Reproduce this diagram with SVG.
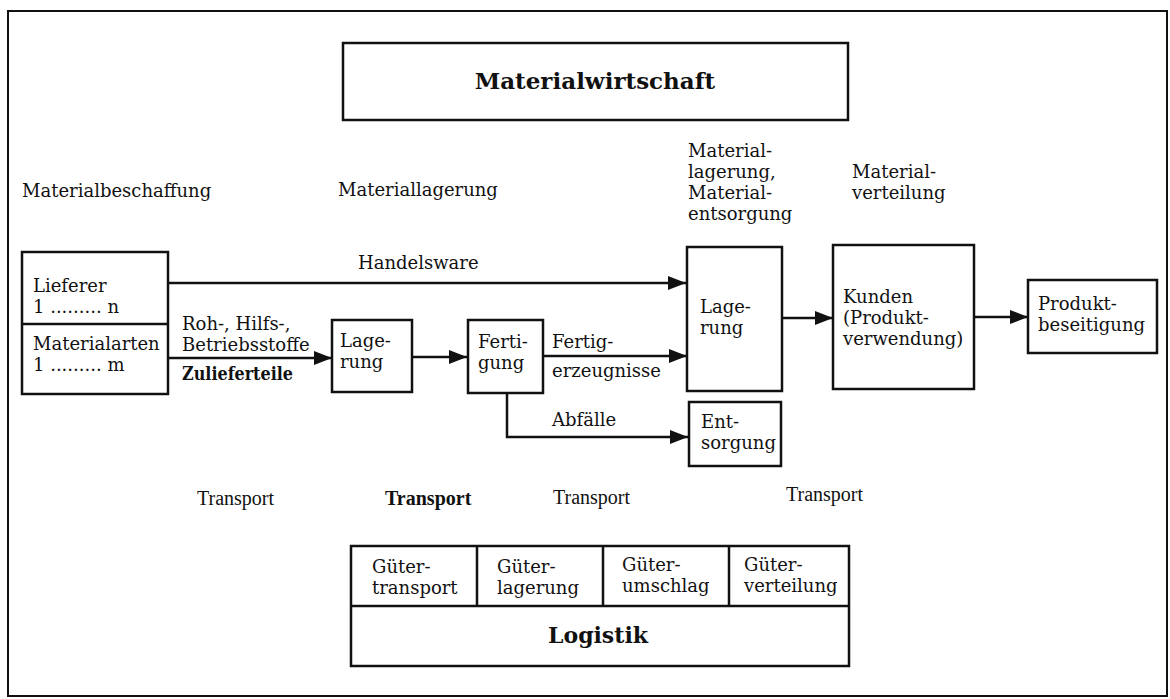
<svg xmlns="http://www.w3.org/2000/svg" width="1170" height="699" viewBox="0 0 1170 699">
<style>
.t{font-family:"DejaVu Serif","Liberation Serif",serif;font-size:18px;fill:#111}
.tr{font-family:"Liberation Serif","Times New Roman",serif;font-size:20px;fill:#111}
.b{font-weight:bold}
.box{fill:#fff;stroke:#111;stroke-width:2.5}
.ln{fill:none;stroke:#111;stroke-width:2.5}
</style>
<defs>
<marker id="ah" markerWidth="20" markerHeight="14" refX="18" refY="7" orient="auto" markerUnits="userSpaceOnUse">
<path d="M0,0 L18,7 L0,14 Z" fill="#111"/>
</marker>
</defs>
<rect x="0" y="0" width="1170" height="699" fill="#fff"/>
<rect id="frame" x="8" y="11" width="1159" height="685" fill="none" stroke="#111" stroke-width="2"/>

<g id="title">
<rect class="box" x="343" y="43" width="505" height="77"/>
<text class="t b" x="595" y="89" text-anchor="middle" style="font-size:23px">Materialwirtschaft</text>
</g>

<g id="stages">
<text class="t" x="22" y="197">Materialbeschaffung</text>
<text class="t" x="338" y="196">Materiallagerung</text>
<text class="t" x="688" y="157">Material-</text>
<text class="t" x="688" y="178">lagerung,</text>
<text class="t" x="688" y="199">Material-</text>
<text class="t" x="688" y="220">entsorgung</text>
<text class="t" x="852" y="178">Material-</text>
<text class="t" x="852" y="199">verteilung</text>
</g>

<g id="connectors">
<line class="ln" x1="168" y1="283" x2="686" y2="283" marker-end="url(#ah)"/>
<line class="ln" x1="168" y1="358" x2="332" y2="358" marker-end="url(#ah)"/>
<line class="ln" x1="412" y1="357" x2="467" y2="357" marker-end="url(#ah)"/>
<line class="ln" x1="543" y1="356" x2="687" y2="356" marker-end="url(#ah)"/>
<polyline class="ln" points="507,393 507,437 688,437" marker-end="url(#ah)"/>
<line class="ln" x1="782" y1="318" x2="833" y2="318" marker-end="url(#ah)"/>
<line class="ln" x1="974" y1="317" x2="1028" y2="317" marker-end="url(#ah)"/>
<text class="t" x="358" y="269">Handelsware</text>
<text class="t" x="182" y="330">Roh-, Hilfs-,</text>
<text class="t" x="182" y="351">Betriebsstoffe</text>
<text class="t b" x="182" y="380" textLength="111" lengthAdjust="spacingAndGlyphs">Zulieferteile</text>
<text class="t" x="552" y="348">Fertig-</text>
<text class="t" x="552" y="377">erzeugnisse</text>
<text class="t" x="552" y="426">Abfälle</text>
</g>

<g id="lieferer">
<rect class="box" x="22" y="252" width="146" height="142"/>
<line class="ln" x1="22" y1="324" x2="168" y2="324"/>
<text class="t" x="33" y="292">Lieferer</text>
<text class="t" x="33" y="313">1 ......... n</text>
<text class="t" x="33" y="350">Materialarten</text>
<text class="t" x="33" y="371">1 ......... m</text>
</g>

<g id="lagerung1">
<rect class="box" x="332" y="320" width="80" height="72"/>
<text class="t" x="340" y="347">Lage-</text>
<text class="t" x="340" y="368">rung</text>
</g>

<g id="fertigung">
<rect class="box" x="468" y="320" width="75" height="73"/>
<text class="t" x="478" y="348">Ferti-</text>
<text class="t" x="478" y="369">gung</text>
</g>

<g id="lagerung2">
<rect class="box" x="687" y="247" width="95" height="144"/>
<text class="t" x="700" y="313">Lage-</text>
<text class="t" x="700" y="334">rung</text>
</g>

<g id="entsorgung">
<rect class="box" x="689" y="402" width="92" height="64"/>
<text class="t" x="701" y="428">Ent-</text>
<text class="t" x="701" y="449">sorgung</text>
</g>

<g id="kunden">
<rect class="box" x="833" y="245" width="141" height="144"/>
<text class="t" x="843" y="303">Kunden</text>
<text class="t" x="843" y="324">(Produkt-</text>
<text class="t" x="843" y="345">verwendung)</text>
</g>

<g id="produkt">
<rect class="box" x="1028" y="280" width="129" height="73"/>
<text class="t" x="1038" y="310">Produkt-</text>
<text class="t" x="1038" y="331">beseitigung</text>
</g>

<g id="transport">
<text class="tr" x="197" y="505">Transport</text>
<text class="tr b" x="385" y="505">Transport</text>
<text class="tr" x="553" y="504">Transport</text>
<text class="tr" x="786" y="501">Transport</text>
</g>

<g id="logistik">
<rect class="box" x="351" y="546" width="498" height="120"/>
<line class="ln" x1="351" y1="606" x2="849" y2="606"/>
<line class="ln" x1="477" y1="546" x2="477" y2="606"/>
<line class="ln" x1="603" y1="546" x2="603" y2="606"/>
<line class="ln" x1="729" y1="546" x2="729" y2="606"/>
<text class="t" x="372" y="573">Güter-</text>
<text class="t" x="372" y="594">transport</text>
<text class="t" x="497" y="573">Güter-</text>
<text class="t" x="497" y="594">lagerung</text>
<text class="t" x="622" y="571">Güter-</text>
<text class="t" x="622" y="592">umschlag</text>
<text class="t" x="744" y="571">Güter-</text>
<text class="t" x="744" y="592">verteilung</text>
<text class="t b" x="598" y="643" text-anchor="middle" style="font-size:22px">Logistik</text>
</g>
</svg>
